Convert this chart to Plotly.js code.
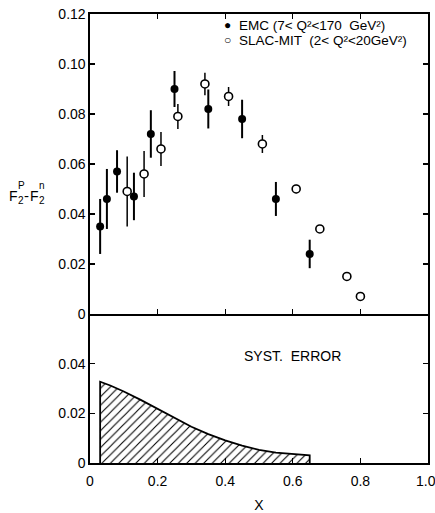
<!DOCTYPE html>
<html>
<head>
<meta charset="utf-8">
<script src="https://cdn.plot.ly/plotly-3.0.1.min.js"></script>
<style>html,body{margin:0;padding:0;background:#fff;}#chart{width:435px;height:513px;}</style>
</head>
<body>
<div id="chart"></div>
<script>
// EMC data (filled circles)
const emcX   = [0.03, 0.05, 0.08, 0.13, 0.18, 0.25, 0.35, 0.45, 0.55, 0.65];
const emcY   = [0.035, 0.046, 0.057, 0.047, 0.072, 0.090, 0.082, 0.078, 0.046, 0.024];
const emcErr = [0.011, 0.012, 0.0085, 0.0095, 0.0095, 0.0072, 0.0078, 0.0077, 0.0068, 0.0057];

// SLAC-MIT data (open circles)
const slacX   = [0.11, 0.16, 0.21, 0.26, 0.34, 0.41, 0.51, 0.61, 0.68, 0.76, 0.80];
const slacY   = [0.049, 0.056, 0.066, 0.079, 0.092, 0.087, 0.068, 0.050, 0.034, 0.015, 0.007];
const slacErr = [0.014, 0.0092, 0.0068, 0.0050, 0.0045, 0.0038, 0.0036, 0.0017, 0.0005, 0.0, 0.0];

// Systematic error band (hatched)
const systX = [0.03, 0.03, 0.06, 0.10, 0.15, 0.20, 0.25, 0.30, 0.35, 0.40, 0.45, 0.50, 0.55, 0.60, 0.65, 0.65];
const systY = [0.0, 0.0327, 0.0312, 0.0288, 0.0254, 0.0218, 0.0180, 0.0146, 0.0116, 0.0091, 0.0070, 0.0053, 0.0042, 0.0035, 0.0031, 0.0];

// Series names
const emcName  = 'EMC (7< Q\u00b2<170  GeV\u00b2)';
const slacName = 'SLAC-MIT  (2< Q\u00b2<20GeV\u00b2)';

// Tick labels (the last x label is drawn as an annotation so it is not cut at the page edge)
const xTickVals = [0, 0.2, 0.4, 0.6, 0.8, 1.0];
const xTickText = ['0', '0.2', '0.4', '0.6', '0.8', ''];
const xLastLabel = '1.0';
const yTopVals = [0, 0.02, 0.04, 0.06, 0.08, 0.10, 0.12];
const yTopText = ['0', '0.02', '0.04', '0.06', '0.08', '0.10', '0.12'];
const yBotVals = [0, 0.02, 0.04];
const yBotText = ['0', '0.02', '0.04'];

const FONT = 'Liberation Sans, Arial, sans-serif';

const traces = [
  {
    x: systX, y: systY, xaxis: 'x', yaxis: 'y',
    type: 'scatter', mode: 'lines', fill: 'toself',
    line: {color: '#000', width: 1.8},
    fillcolor: 'rgba(0,0,0,0)',
    fillpattern: {shape: '/', fgcolor: '#000', bgcolor: '#fff', size: 6, solidity: 0.18},
    showlegend: false, hoverinfo: 'skip'
  },
  // error bars first (beneath the markers)
  {
    x: emcX, y: emcY, xaxis: 'x2', yaxis: 'y2',
    type: 'scatter', mode: 'markers', showlegend: false,
    marker: {size: 1, opacity: 0},
    error_y: {type: 'data', array: emcErr, visible: true, color: '#000', thickness: 2, width: 0}
  },
  {
    x: slacX, y: slacY, xaxis: 'x2', yaxis: 'y2',
    type: 'scatter', mode: 'markers', showlegend: false,
    marker: {size: 1, opacity: 0},
    error_y: {type: 'data', array: slacErr, visible: true, color: '#000', thickness: 1.5, width: 0}
  },
  // markers
  {
    x: emcX, y: emcY, xaxis: 'x2', yaxis: 'y2',
    type: 'scatter', mode: 'markers', name: emcName,
    marker: {symbol: 'circle', size: 8, color: '#000'}
  },
  {
    x: slacX, y: slacY, xaxis: 'x2', yaxis: 'y2',
    type: 'scatter', mode: 'markers', name: slacName,
    marker: {symbol: 'circle', size: 8, color: '#fff', line: {color: '#000', width: 1.6}}
  }
];

const axisCommon = {
  showgrid: false, zeroline: false,
  showline: true, linecolor: '#000', linewidth: 1.6,
  ticks: 'inside', ticklen: 5, tickwidth: 1.4, tickcolor: '#000',
  tickfont: {family: FONT, size: 14, color: '#000'}
};

// helpers to place text pieces by pixel inside the 435x513 figure (plot area l=90..428.5, t=14..463)
const px2paperX = p => (p - 90) / 338.5;
const px2paperY = p => (463 - p) / 449;
function piece(text, left, midY, size, anchor) {
  return {
    xref: 'paper', yref: 'paper', x: px2paperX(left), y: px2paperY(midY),
    xanchor: anchor || 'left', yanchor: 'middle', showarrow: false, text: text,
    font: {family: FONT, size: size, color: '#000'}
  };
}

const layout = {
  width: 435, height: 513,
  margin: {l: 90, r: 6.5, t: 14, b: 50},
  paper_bgcolor: '#fff', plot_bgcolor: '#fff',
  font: {family: FONT, color: '#000'},
  showlegend: false,
  xaxis: Object.assign({}, axisCommon, {
    domain: [0, 1], anchor: 'y', range: [0, 1],
    tickmode: 'array', tickvals: xTickVals, ticktext: xTickText,
    ticklabelstandoff: 5,
    mirror: false,
    title: {text: 'X', font: {family: FONT, size: 14, color: '#000'}, standoff: 22}
  }),
  yaxis: Object.assign({}, axisCommon, {
    domain: [0, 0.332], anchor: 'x', range: [0, 0.06],
    tickmode: 'array', tickvals: yBotVals, ticktext: yBotText,
    mirror: 'ticks'
  }),
  xaxis2: Object.assign({}, axisCommon, {
    domain: [0, 1], anchor: 'y2', range: [0, 1], matches: 'x',
    tickmode: 'array', tickvals: xTickVals,
    showticklabels: false, mirror: 'ticks'
  }),
  yaxis2: Object.assign({}, axisCommon, {
    domain: [0.332, 1], anchor: 'x2', range: [0, 0.12],
    tickmode: 'array', tickvals: yTopVals, ticktext: yTopText,
    mirror: 'ticks'
  }),
  annotations: [
    {
      xref: 'x', yref: 'y', x: 0.6, y: 0.043, showarrow: false,
      text: 'SYST.  ERROR', font: {family: FONT, size: 14, color: '#000'}
    },
    // last x tick label
    piece(xLastLabel, 426, 481.5, 14, 'center'),
    // key (legend) entries
    piece('\u25CF', 228, 25, 12, 'center'),
    piece(emcName, 237, 25, 13.5),
    piece('\u25CB', 228, 40.5, 12, 'center'),
    piece(slacName, 237, 40.5, 13.5),
    // y-axis label F2^p - F2^n with stacked super/subscripts
    piece('F', 7, 195.5, 14),
    piece('P', 16, 185, 10),
    piece('2', 16, 200.5, 10),
    piece('-', 22, 195.5, 15),
    piece('F', 28, 195.5, 14),
    piece('n', 37, 185, 10),
    piece('2', 37, 200.5, 10)
  ]
};

Plotly.newPlot('chart', traces, layout, {displayModeBar: false, staticPlot: true});
</script>
</body>
</html>
